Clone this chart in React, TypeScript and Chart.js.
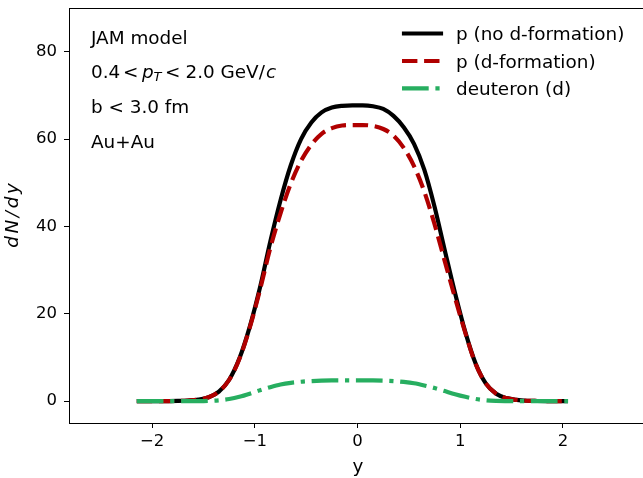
import { useEffect, useRef } from "react";
import { Chart, registerables } from "chart.js";

Chart.register(...registerables);

// ---------- data ----------
const rapidity = [
  -2.15, -2.05, -1.95, -1.85, -1.75, -1.65, -1.55, -1.45, -1.35, -1.25, -1.15,
  -1.05, -0.95, -0.85, -0.75, -0.65, -0.55, -0.45, -0.35, -0.25, -0.15, -0.05,
  0.05, 0.15, 0.25, 0.35, 0.45, 0.55, 0.65, 0.75, 0.85, 0.95, 1.05, 1.15, 1.25,
  1.35, 1.45, 1.55, 1.65, 1.75, 1.85, 1.95, 2.05,
];
const protonNoDFormation = [
  0.0, 0.0, 0.0, 0.02, 0.06, 0.15, 0.35, 0.9, 2.2, 4.9, 9.8, 17.0, 26.0, 36.5,
  46.0, 54.0, 60.0, 63.8, 66.1, 67.2, 67.6, 67.7, 67.7, 67.5, 66.9, 65.3, 62.7,
  58.9, 53.0, 44.5, 34.5, 24.7, 15.8, 8.6, 4.0, 1.7, 0.7, 0.28, 0.1, 0.04, 0.01,
  0.0, 0.0,
];
const protonDFormation = [
  0.0, 0.0, 0.0, 0.02, 0.06, 0.15, 0.35, 0.9, 2.2, 4.9, 9.7, 16.8, 25.5, 35.0,
  43.0, 49.8, 55.0, 58.7, 61.2, 62.5, 63.1, 63.2, 63.2, 63.0, 62.3, 60.8, 58.0,
  53.8, 48.0, 40.5, 32.0, 23.6, 15.6, 8.5, 4.0, 1.7, 0.7, 0.28, 0.1, 0.04, 0.01,
  0.0, 0.0,
];
const deuteron = [
  0.0, 0.0, 0.0, 0.0, 0.0, 0.0, 0.02, 0.08, 0.2, 0.5, 1.0, 1.7, 2.5, 3.2, 3.8,
  4.2, 4.45, 4.6, 4.7, 4.75, 4.75, 4.75, 4.75, 4.75, 4.7, 4.6, 4.4, 4.1, 3.6,
  3.0, 2.3, 1.6, 1.0, 0.5, 0.2, 0.07, 0.02, 0.0, 0.0, 0.0, 0.0, 0.0, 0.0,
];
const seriesLabels = ["p (no d-formation)", "p (d-formation)", "deuteron (d)"];
const xTickValues = [-2, -1, 0, 1, 2];
const yTickValues = [0, 20, 40, 60, 80];
const infoLines = ["JAM model", "b < 3.0 fm", "Au+Au"];

// ---------- style ----------
const FONT = '"DejaVu Sans", sans-serif';
const LW = 4.17;
const COLORS = ["#000000", "#b00000", "#27ae60"];
const DASHES: number[][] = [[], [15.4, 6.7], [26.7, 6.7, 4.2, 6.7]];

const fmt = (v: number) => String(v).replace("-", "\u2212");

const overlay = {
  id: "overlay",
  afterDraw(chart: any) {
    const ctx: CanvasRenderingContext2D = chart.ctx;
    const ca = chart.chartArea;
    ctx.save();
    // top spine
    ctx.strokeStyle = "#000";
    ctx.lineWidth = 1;
    ctx.beginPath();
    ctx.moveTo(ca.left, ca.top + 0.5);
    ctx.lineTo(ca.right, ca.top + 0.5);
    ctx.stroke();

    ctx.fillStyle = "#000";
    ctx.textBaseline = "alphabetic";
    ctx.textAlign = "left";
    const f = (style: string, size: number) => `${style} ${size}px ${FONT}`;

    // info text
    ctx.font = f("normal", 18.4);
    ctx.fillText(infoLines[0], 91, 44);
    // math line: 0.4 < p_T < 2.0 GeV/c
    ctx.fillText("0.4", 91, 78);
    ctx.fillText("<", 123, 78);
    ctx.font = f("italic", 18.4);
    ctx.fillText("p", 142, 78);
    ctx.font = f("italic", 13);
    ctx.fillText("T", 153.5, 81);
    ctx.font = f("normal", 18.4);
    ctx.fillText("<", 165, 78);
    ctx.fillText("2.0", 185.5, 78);
    ctx.fillText("GeV/", 220.5, 78);
    ctx.font = f("italic", 18.4);
    ctx.fillText("c", 266, 78);
    ctx.font = f("normal", 18.4);
    ctx.fillText(infoLines[1], 91, 113);
    ctx.fillText(infoLines[2], 91, 148);

    // legend
    const rows = [33.5, 61, 88.3];
    chart.data.datasets.forEach((ds: any, i: number) => {
      const y = rows[i];
      ctx.save();
      ctx.strokeStyle = ds.borderColor;
      ctx.lineWidth = LW;
      ctx.setLineDash(ds.borderDash || []);
      ctx.lineCap = i === 0 ? "square" : "butt";
      ctx.beginPath();
      ctx.moveTo(i === 0 ? 404 : 402, y);
      ctx.lineTo(i === 0 ? 441 : 443, y);
      ctx.stroke();
      ctx.restore();
      ctx.font = f("normal", 18.4);
      ctx.fillStyle = "#000";
      ctx.fillText(ds.label, 456, y + 6.6);
    });

    // axis titles
    ctx.font = f("normal", 18.4);
    ctx.textAlign = "center";
    ctx.fillText("y", 358, 472);

    ctx.save();
    ctx.translate(18, 215.5);
    ctx.rotate(-Math.PI / 2);
    ctx.font = f("italic", 18.4);
    const chars = ["d", "N", "/", "d", "y"];
    const gap = 2.6;
    const widths = chars.map((c) => ctx.measureText(c).width);
    const total = widths.reduce((a, b) => a + b, 0) + gap * (chars.length - 1);
    let x = -total / 2;
    ctx.textAlign = "left";
    chars.forEach((c, i) => {
      ctx.fillText(c, x, 0);
      x += widths[i] + gap;
    });
    ctx.restore();

    ctx.restore();
  },
};

export default function App() {
  const ref = useRef<HTMLCanvasElement | null>(null);

  useEffect(() => {
    if (!ref.current) return;
    const series = [protonNoDFormation, protonDFormation, deuteron];
    const chart = new Chart(ref.current, {
      type: "line",
      data: {
        datasets: series.map((vals, i) => ({
          label: seriesLabels[i],
          data: rapidity.map((r, k) => ({ x: r, y: vals[k] })),
          borderColor: COLORS[i],
          backgroundColor: COLORS[i],
          borderWidth: LW,
          borderDash: DASHES[i],
          borderCapStyle: "butt",
          borderJoinStyle: "round",
          pointRadius: 0,
          cubicInterpolationMode: "monotone",
          fill: false,
          order: 2 - i,
        })),
      },
      options: {
        responsive: false,
        animation: false,
        devicePixelRatio: 1,
        layout: { padding: { top: 8, left: 0, right: 0, bottom: 0 } },
        plugins: { legend: { display: false }, tooltip: { enabled: false } },
        scales: {
          x: {
            type: "linear",
            min: -2.81,
            max: 2.78,
            afterBuildTicks: (s: any) => {
              s.ticks = xTickValues.map((v) => ({ value: v }));
            },
            afterFit: (s: any) => {
              s.height = 55;
              s.paddingLeft = 0;
              s.paddingRight = 0;
            },
            grid: {
              drawOnChartArea: false,
              drawTicks: true,
              tickLength: 5,
              tickColor: "#000",
              tickWidth: 1,
            },
            border: { display: true, color: "#000", width: 1 },
            ticks: {
              color: "#000",
              font: { family: FONT, size: 16.5 },
              padding: 4,
              maxRotation: 0,
              autoSkip: false,
              callback: (v: any) => fmt(Number(v)),
            },
          },
          y: {
            type: "linear",
            min: -5,
            max: 90,
            afterBuildTicks: (s: any) => {
              s.ticks = yTickValues.map((v) => ({ value: v }));
            },
            afterFit: (s: any) => {
              s.width = 69;
              s.paddingTop = 0;
              s.paddingBottom = 0;
            },
            grid: {
              drawOnChartArea: false,
              drawTicks: true,
              tickLength: 5,
              tickColor: "#000",
              tickWidth: 1,
            },
            border: { display: true, color: "#000", width: 1 },
            ticks: {
              color: "#000",
              font: { family: FONT, size: 16.5 },
              padding: 7,
              autoSkip: false,
              callback: (v: any) => fmt(Number(v)),
            },
          },
        },
      },
      plugins: [overlay],
    } as any);
    return () => chart.destroy();
  }, []);

  return (
    <div style={{ position: "fixed", left: 0, top: 0, width: 643, height: 478, background: "#fff" }}>
      <canvas ref={ref} width={643} height={478} style={{ display: "block", width: 643, height: 478 }} />
    </div>
  );
}
